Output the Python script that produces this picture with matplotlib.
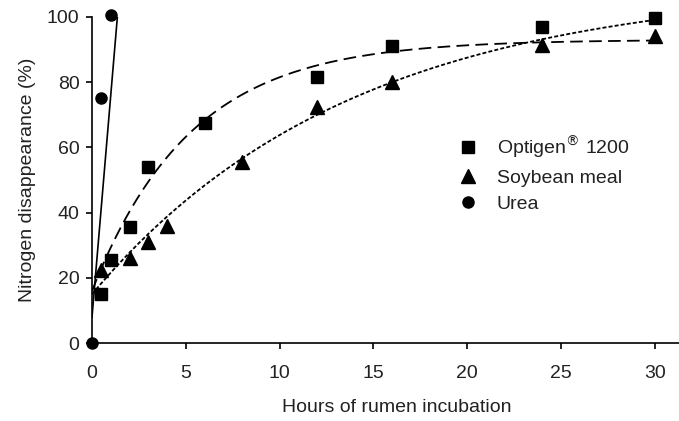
import numpy as np
import matplotlib.pyplot as plt

plt.rcParams['font.family'] = ['Liberation Sans', 'DejaVu Sans']

# ==================================================
# data
# ==================================================

opt_hours = [0.5, 1, 2, 3, 6, 12, 16, 24, 30]
opt_values = [15, 25.5, 35.5, 54, 67.5, 81.5, 91, 97, 99.5]

soy_hours = [0.5, 2, 3, 4, 8, 12, 16, 24, 30]
soy_values = [22.5, 26, 31, 36, 55.5, 72.5, 80, 91.5, 94]

urea_hours = [0, 0.5, 1]
urea_values = [0, 75, 100.5]

# fitted curves: y = a + b * (1 - exp(-c * t))
opt_fit = (16.0, 77.0, 0.19)
soy_fit = (15.0, 95.0, 0.072)
# urea fit is nearly straight: y = intercept + slope * t
urea_fit = (8.0, 68.0)

x_ticks = [0, 5, 10, 15, 20, 25, 30]
y_ticks = [0, 20, 40, 60, 80, 100]

text_color = "#222222"
fs = 14

fig = plt.figure(figsize=(6.79, 4.21), dpi=100)
ax = fig.add_axes([0.1355, 0.185, 0.8645, 0.775])

t = np.linspace(0, 30, 300)
a, b, c = opt_fit
ax.plot(t, a + b * (1 - np.exp(-c * t)), color="black", lw=1.3,
        linestyle=(0, (7, 3.5)))
a, b, c = soy_fit
ax.plot(t, a + b * (1 - np.exp(-c * t)), color="black", lw=1.3,
        linestyle=(0, (2.2, 1.2)))

t_urea = np.linspace(0, (100 - urea_fit[0]) / urea_fit[1], 50)
ax.plot(t_urea, urea_fit[0] + urea_fit[1] * t_urea, color="black", lw=1.2)

h_opt, = ax.plot(opt_hours, opt_values, "s", color="black", ms=8.5,
                 clip_on=False, label="Optigen$^{®}$ 1200")
h_soy, = ax.plot(soy_hours, soy_values, "^", color="black", ms=9.5,
                 clip_on=False, label="Soybean meal")
h_urea, = ax.plot(urea_hours, urea_values, "o", color="black", ms=8,
                  clip_on=False, label="Urea", zorder=5)

ax.set_xlim(0, 31.3)
ax.set_ylim(0, 100)
ax.set_xticks(x_ticks)
ax.set_yticks(y_ticks)

for side in ["top", "right"]:
    ax.spines[side].set_visible(False)
for side in ["left", "bottom"]:
    ax.spines[side].set_linewidth(1.2)

ax.tick_params(direction="out", length=4, width=1.2, labelsize=fs,
               labelcolor=text_color, pad=5)
ax.tick_params(axis="x", pad=12)

ax.set_xlabel("Hours of rumen incubation", fontsize=fs, color=text_color)
ax.xaxis.set_label_coords(0.52, -0.172)
ax.set_ylabel("Nitrogen disappearance (%)", fontsize=fs, color=text_color,
              labelpad=8)

ax.legend(handles=[h_opt, h_soy, h_urea], loc="center left",
          bbox_to_anchor=(0.625, 0.52), frameon=False, fontsize=fs,
          handlelength=0.9, handletextpad=1.05, borderpad=0,
          borderaxespad=0, labelspacing=0.45, labelcolor=text_color)

fig.savefig("out.png", dpi=100)
